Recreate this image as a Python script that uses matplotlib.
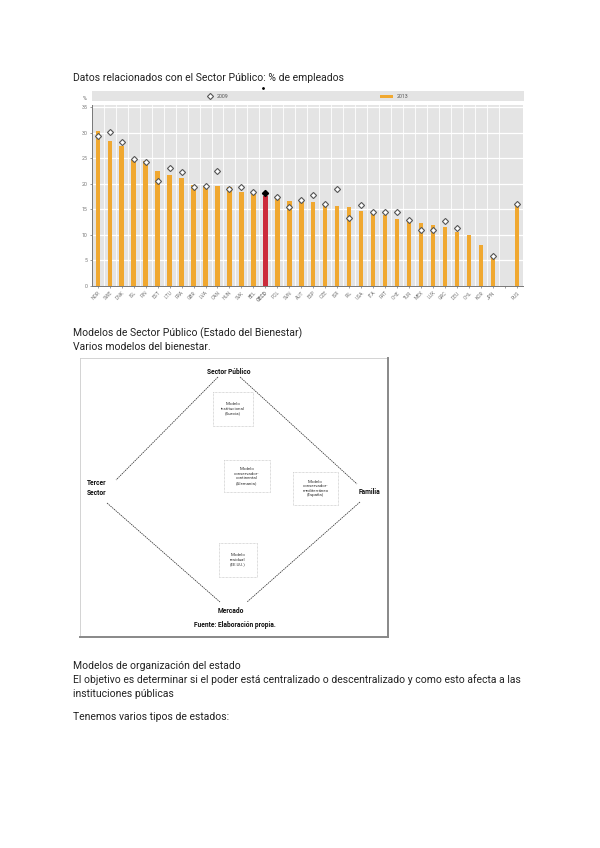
import numpy as np
import matplotlib
matplotlib.use("Agg")
from matplotlib import pyplot as plt
from matplotlib.patches import Rectangle

plt.rcParams['font.family'] = ['Roboto', 'DejaVu Sans']

# datos del grafico (% empleo publico sobre empleo total)
paises = ["NOR", "SWE", "DNK", "ISL", "FIN", "EST", "LTU", "FRA", "GBR", "LVA",
          "CAN", "HUN", "SVK", "BEL", "OECD", "POL", "SVN", "AUT", "ESP", "CZE",
          "ISR", "IRL", "USA", "ITA", "PRT", "CHE", "TUR", "MEX", "LUX", "GRC",
          "DEU", "CHL", "KOR", "JPN", "", "RUS"]
valores_2013 = [30.4, 28.5, 27.4, 24.8, 24.5, 22.5, 21.7, 21.1, 19.8, 19.6,
                19.5, 19.3, 18.4, 18.1, 17.7, 17.1, 16.7, 16.5, 16.4, 15.7,
                15.7, 15.4, 14.6, 14.2, 13.9, 13.1, 12.6, 12.3, 12.0, 11.5,
                10.6, 9.9, 8.1, 5.7, np.nan, 15.9]
valores_2009 = [29.4, 30.2, 28.2, 24.9, 24.3, 20.6, 23.1, 22.3, 19.3, 19.5,
                22.5, 19.1, 19.3, 18.4, 18.2, 17.5, 15.5, 16.9, 17.8, 16.1,
                19.1, 13.4, 15.8, 14.5, 14.4, 14.4, 12.9, 11.0, 11.0, 12.8,
                11.4, np.nan, np.nan, 5.9, np.nan, 16.0]
yticks = [0, 5, 10, 15, 20, 25, 30, 35]

W, H = 600, 848
fig = plt.figure(figsize=(W / 100, H / 100), dpi=100)
fig.patch.set_facecolor("white")


def caja(x0, y0, x1, y1):
    # pixeles -> fraccion de figura
    return [x0 / W, 1 - y1 / H, (x1 - x0) / W, (y1 - y0) / H]


gris = "#e4e4e4"
naranja = "#f0a830"
rojo = "#cc2b3b"

# --- grafico de barras ---
ax = fig.add_axes(caja(91.7, 105.3, 523, 286))
ax.set_facecolor(gris)
x = np.arange(len(paises))
colores = [rojo if p == "OECD" else naranja for p in paises]
ax.bar(x, valores_2013, width=0.36, color=colores, zorder=3)
v09 = np.array(valores_2009, dtype=float)
es_oecd = np.array([p == "OECD" for p in paises])
ax.plot(x[~es_oecd], v09[~es_oecd], linestyle="none", marker="D", ms=3.1,
        mfc="white", mec="#555555", mew=0.8, zorder=4)
ax.plot(x[es_oecd], v09[es_oecd], linestyle="none", marker="D", ms=3.1,
        mfc="black", mec="black", zorder=4)

ax.set_xlim(-0.5, len(paises) - 0.5)
ax.set_ylim(0, 35.4)
ax.set_yticks(yticks)
ax.set_yticklabels([str(v) for v in yticks], fontsize=3.8, color="#555555")
for yv in yticks[1:]:
    ax.axhline(yv, color="white", lw=0.9, zorder=1)
for b in np.arange(0.5, len(paises) - 1.5, 1.0):
    if b == len(paises) - 1.5:
        continue
    ax.axvline(b, color="white", lw=0.6, zorder=1)
ax.set_xticks(x)
ax.set_xticklabels(paises, rotation=45, ha="right", rotation_mode="anchor",
                   fontsize=3.6, color="#555555")
for t in ax.get_xticklabels():
    if t.get_text() == "OECD":
        t.set_fontweight("bold")
        t.set_color("#222222")
ax.tick_params(axis="both", length=1.5, width=0.5, pad=1.5, colors="#777777")
for lado in ["top", "right"]:
    ax.spines[lado].set_visible(False)
ax.spines["left"].set_color("#777777")
ax.spines["bottom"].set_color("#777777")
ax.spines["left"].set_linewidth(0.7)
ax.spines["bottom"].set_linewidth(0.7)

# --- capa de pagina en pixeles ---
pg = fig.add_axes([0, 0, 1, 1], zorder=-1)
pg.set_xlim(0, W)
pg.set_ylim(H, 0)
pg.axis("off")

# leyenda
pg.add_patch(Rectangle((92, 91), 432, 10, color=gris, lw=0))
pg.plot(210, 96, marker="D", ms=3.1, mfc="white", mec="#555555", mew=0.8)
pg.text(217, 96, "2009", fontsize=3.8, color="#555555", va="center")
pg.add_patch(Rectangle((380, 94.5), 13, 3.5, color=naranja, lw=0))
pg.text(397, 96, "2013", fontsize=3.8, color="#555555", va="center")
pg.text(83, 98.5, "%", fontsize=3.8, color="#555555", va="center")
pg.plot(263, 88, marker="o", ms=1, color="black")

txt = dict(fontsize=7.5, color="#222222", va="center", ha="left")
pg.text(73, 78, "Datos relacionados con el Sector Público: % de empleados", **txt)
pg.text(73, 333, "Modelos de Sector Público (Estado del Bienestar)", **txt)
pg.text(73, 347, "Varios modelos del bienestar.", **txt)
pg.text(73, 666, "Modelos de organización del estado", **txt)
pg.text(73, 680, "El objetivo es determinar si el poder está centralizado o "
        "descentralizado y como esto afecta a las", **txt)
pg.text(73, 694, "instituciones públicas", **txt)
pg.text(73, 717, "Tenemos varios tipos de estados:", **txt)

# --- diagrama de modelos del bienestar ---
pg.plot([80, 388], [358, 358], color="#cccccc", lw=0.6)
pg.plot([80, 80], [358, 637], color="#cccccc", lw=0.6)
pg.plot([388, 388], [358, 637], color="#888888", lw=1.4)
pg.plot([80, 388], [637, 637], color="#888888", lw=1.4)

lin = dict(color="#333333", lw=0.55, linestyle=(0, (2, 1)))
pg.plot([218, 116], [377, 480], **lin)
pg.plot([240, 357], [377, 484], **lin)
pg.plot([107, 220], [503, 602], **lin)
pg.plot([360, 247], [502, 602], **lin)

neg = dict(fontsize=4.8, fontweight="bold", color="#111111", va="center")
pg.text(229, 372, "Sector Público", ha="center", **neg)
pg.text(87, 488, "Tercer\nSector", ha="left", linespacing=1.3, **neg)
pg.text(359, 492, "Familia", ha="left", **neg)
pg.text(231, 611, "Mercado", ha="center", **neg)
pg.text(235, 625, "Fuente: Elaboración propia.", ha="center", **neg)

modelos = [
    ("Modelo\ninstitucional\n(Suecia)", (213, 392, 253, 426)),
    ("Modelo\nconservador-\ncontinental\n(Alemania)", (224, 460, 270, 492)),
    ("Modelo\nconservador-\nmediterráneo\n(España)", (293, 472, 338, 505)),
    ("Modelo\nresidual\n(EE.UU.)", (219, 543, 257, 577)),
]
for texto, (x0, y0, x1, y1) in modelos:
    pg.add_patch(Rectangle((x0, y0), x1 - x0, y1 - y0, fill=False,
                           ec="#bbbbbb", lw=0.5, linestyle=(0, (1, 1))))
    pg.text((x0 + x1) / 2, (y0 + y1) / 2, texto, fontsize=3.2, color="#333333",
            ha="center", va="center", linespacing=1.2)

fig.savefig("out.png", dpi=100, facecolor="white")
